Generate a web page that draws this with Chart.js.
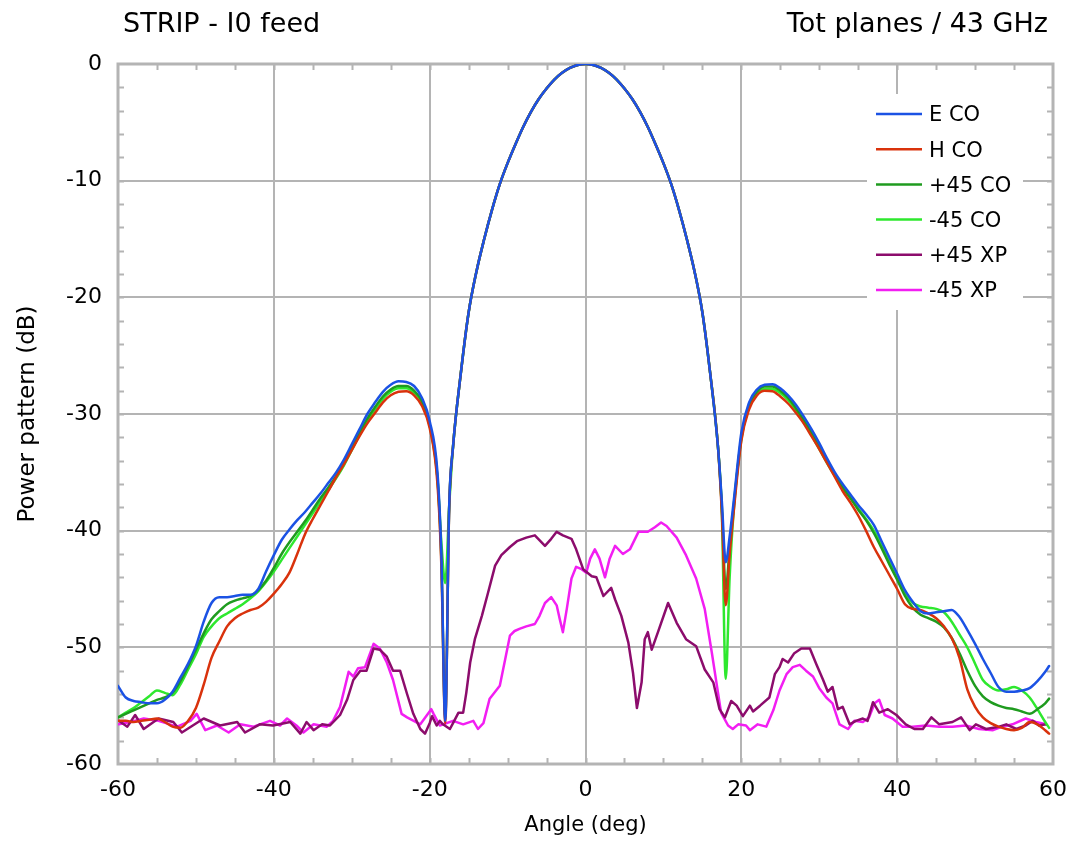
<!DOCTYPE html>
<html>
<head>
<meta charset="utf-8">
<script src="https://cdn.jsdelivr.net/npm/chart.js@4.4.1/dist/chart.umd.min.js"></script>
<style>
  html, body { margin: 0; padding: 0; background: #ffffff; }
  canvas { display: block; }
</style>
</head>
<body>
<canvas id="pattern" width="1070" height="843"></canvas>
<script>
// Series names, in legend order
const seriesLabels = ['E CO', 'H CO', '+45 CO', '-45 CO', '+45 XP', '-45 XP'];

// Axis tick labels
const angleTicks = [-60, -40, -20, 0, 20, 40, 60];
const dbTicks = [0, -10, -20, -30, -40, -50, -60];

// Angle samples shared by the co-polar cuts (deg)
const coAngles = [
  -60, -59, -58, -57, -56, -55, -54, -53, -52, -51,
  -50, -49, -48, -47, -46, -45, -44, -43, -42, -41,
  -40, -39, -38, -37, -36, -35, -34, -33, -32, -31,
  -30, -29, -28, -27, -26, -25, -24, -23, -22, -21,
  -20, -19, -18.5, -18, -17.5,
  -17, -16, -15, -14, -13, -12, -11, -10, -9, -8, -7, -6, -5, -4, -3, -2, -1,
  0,
  1, 2, 3, 4, 5, 6, 7, 8, 9, 10, 11, 12, 13, 14, 15, 16, 17,
  17.5, 18, 18.5,
  19, 20, 21, 22, 23, 24, 25, 26, 27, 28,
  29, 30, 31, 32, 33, 34, 35, 36, 37, 38,
  39, 40, 41, 42, 43, 44, 45, 46, 47, 48,
  49, 50, 51, 52, 53, 54, 55, 56, 57, 58,
  59, 59.5
];

// Co-polar power pattern (dB)
const eCoDb = [
  -53.3, -54.3, -54.6, -54.7, -54.8, -54.8, -54.5, -53.8, -52.6, -51.4,
  -49.9, -47.8, -46.2, -45.7, -45.7, -45.6, -45.5, -45.5, -45.0, -43.5,
  -42.1, -40.8, -39.9, -39.1, -38.4, -37.6, -36.8, -35.9, -35.0, -33.9,
  -32.6, -31.3, -30.0, -29.0, -28.1, -27.5, -27.2, -27.25, -27.6, -28.6,
  -30.6, -35.0, -42.0, -56.3, -38.0,
  -32.8, -26.5, -21.3, -17.8, -15.0, -12.5, -10.3, -8.5, -6.9, -5.4, -4.1, -3.0, -2.1, -1.33, -0.75, -0.33, -0.08,
  0,
  -0.08, -0.33, -0.75, -1.33, -2.1, -3.0, -4.1, -5.4, -6.9, -8.5, -10.3, -12.5, -15.0, -17.8, -21.3, -26.5, -32.8,
  -37.5, -42.7, -40.5,
  -37.6, -31.6, -29.0, -27.9, -27.5, -27.45, -27.8, -28.4, -29.2, -30.2,
  -31.3, -32.5, -33.8, -35.0, -36.0, -36.9, -37.8, -38.6, -39.5, -40.9,
  -42.3, -43.7, -45.1, -46.1, -46.9, -47.1, -47.0, -46.9, -46.8, -47.4,
  -48.5, -49.7, -51.0, -52.2, -53.4, -53.8, -53.8, -53.7, -53.5, -52.9,
  -52.1, -51.6
];
const hCoDb = [
  -56.3, -56.3, -56.4, -56.3, -56.2, -56.1, -56.4, -56.8, -56.9, -56.3,
  -55.2, -53.2, -50.9, -49.5, -48.2, -47.5, -47.1, -46.8, -46.6, -46.1,
  -45.4, -44.6, -43.6, -42.0, -40.3, -39.0, -37.8, -36.6, -35.4, -34.3,
  -33.1, -31.9, -30.8, -29.9, -29.0, -28.4, -28.1, -28.05, -28.4, -29.3,
  -31.2, -36.0, -43.0, -56.5, -38.2,
  -32.8, -26.5, -21.3, -17.8, -15.0, -12.5, -10.3, -8.5, -6.9, -5.4, -4.1, -3.0, -2.1, -1.33, -0.75, -0.33, -0.08,
  0,
  -0.08, -0.33, -0.75, -1.33, -2.1, -3.0, -4.1, -5.4, -6.9, -8.5, -10.3, -12.5, -15.0, -17.8, -21.3, -26.5, -32.8,
  -38.5, -46.4, -42.0,
  -38.5, -32.3, -29.6, -28.4, -28.0, -28.05, -28.5, -29.1, -29.9, -30.8,
  -31.9, -33.0, -34.2, -35.4, -36.6, -37.6, -38.7, -40.0, -41.4, -42.6,
  -43.8, -45.0, -46.3, -46.7, -46.8, -47.1, -47.5, -48.2, -49.2, -50.9,
  -53.6, -55.1, -56.0, -56.5, -56.8, -57.0, -57.1, -56.9, -56.4, -56.6,
  -57.1, -57.4
];
const plus45CoDb = [
  -56.0, -55.7, -55.4, -55.1, -54.8, -54.5, -54.3, -53.9, -52.9, -51.6,
  -50.2, -48.8, -47.6, -46.9, -46.3, -46.0, -45.8, -45.6, -45.1, -44.3,
  -43.2, -42.0, -41.0, -40.1, -39.2, -38.2, -37.2, -36.3, -35.3, -34.2,
  -32.9, -31.6, -30.4, -29.4, -28.5, -27.9, -27.6, -27.6, -28.0, -28.9,
  -30.9, -35.5, -42.5, -56.0, -38.1,
  -32.8, -26.5, -21.3, -17.8, -15.0, -12.5, -10.3, -8.5, -6.9, -5.4, -4.1, -3.0, -2.1, -1.33, -0.75, -0.33, -0.08,
  0,
  -0.08, -0.33, -0.75, -1.33, -2.1, -3.0, -4.1, -5.4, -6.9, -8.5, -10.3, -12.5, -15.0, -17.8, -21.3, -26.5, -32.8,
  -38.0, -45.0, -41.5,
  -38.0, -32.0, -29.3, -28.1, -27.65, -27.65, -28.0, -28.6, -29.5, -30.5,
  -31.6, -32.8, -34.0, -35.2, -36.3, -37.2, -38.2, -39.1, -40.2, -41.5,
  -42.9, -44.2, -45.6, -46.6, -47.2, -47.5, -47.8, -48.3, -49.2, -50.5,
  -52.0, -53.3, -54.2, -54.7, -55.0, -55.2, -55.3, -55.5, -55.7, -55.3,
  -54.8, -54.4
];
const minus45CoDb = [
  -56.0, -55.6, -55.2, -54.7, -54.2, -53.7, -53.9, -54.1, -53.2, -51.9,
  -50.6, -49.1, -48.2, -47.5, -47.1, -46.7, -46.3, -45.8, -45.2, -44.4,
  -43.5, -42.5, -41.5, -40.5, -39.5, -38.5, -37.5, -36.5, -35.5, -34.4,
  -33.1, -31.8, -30.6, -29.6, -28.7, -28.1, -27.8, -27.8, -28.2, -29.0,
  -31.0, -35.5, -41.0, -44.5, -38.0,
  -32.8, -26.5, -21.3, -17.8, -15.0, -12.5, -10.3, -8.5, -6.9, -5.4, -4.1, -3.0, -2.1, -1.33, -0.75, -0.33, -0.08,
  0,
  -0.08, -0.33, -0.75, -1.33, -2.1, -3.0, -4.1, -5.4, -6.9, -8.5, -10.3, -12.5, -15.0, -17.8, -21.3, -26.5, -32.8,
  -38.5, -52.7, -44.0,
  -38.5, -32.2, -29.4, -28.3, -27.85, -27.85, -28.2, -28.8, -29.7, -30.7,
  -31.8, -33.0, -34.2, -35.3, -36.3, -37.2, -38.1, -39.0, -40.0, -41.2,
  -42.6, -44.0, -45.4, -46.2, -46.5, -46.6, -46.7, -47.0, -47.8, -48.9,
  -50.0, -51.4, -52.8, -53.4, -53.7, -53.6, -53.4, -53.7, -54.3, -55.3,
  -56.4, -56.9
];

// Cross-polar cut in the +45 deg plane
const plus45XpAngles = [
  -59.9, -58.8, -57.8, -56.7, -54.8, -52.9, -51.8, -49.0, -46.9, -44.7,
  -43.7, -41.8, -40.1, -37.9, -36.6, -35.8, -34.9, -33.8, -32.8, -31.5,
  -30.6, -29.8, -28.9, -28.1, -27.2, -26.4, -25.5, -24.7, -23.8, -22.9,
  -22.1, -21.2, -20.6, -20.0, -19.7, -19.1, -18.7, -18.3, -17.4, -17.0,
  -16.3, -15.7, -15.3, -14.8, -14.2, -13.3, -12.5, -11.6, -10.8, -9.7,
  -8.8, -7.6, -6.5, -5.2, -4.4, -3.7, -2.9, -1.8, -1.2, -0.3,
  0.8, 1.4, 2.3, 3.3, 3.8, 4.6, 5.5, 6.1, 6.6, 7.2,
  7.6, 8.0, 8.5, 9.3, 10.6, 11.7, 12.9, 14.2, 15.3, 16.4,
  17.2, 17.9, 18.7, 19.4, 20.2, 21.1, 21.5, 22.4, 23.6, 24.3,
  24.9, 25.3, 26.0, 26.8, 27.7, 28.8, 29.6, 30.5, 31.1, 31.7,
  32.4, 33.0, 33.9, 34.7, 35.6, 36.2, 36.9, 37.7, 38.8, 39.9,
  41.1, 42.2, 43.3, 44.4, 45.4, 47.1, 48.2, 49.3, 50.1, 51.4,
  53.1, 54.0, 55.3, 56.5, 57.4, 58.2, 59.1
];
const plus45XpDb = [
  -56.3, -56.8, -55.8, -57.0, -56.1, -56.4, -57.3, -56.1, -56.7, -56.4,
  -57.3, -56.6, -56.7, -56.4, -57.4, -56.4, -57.1, -56.6, -56.7, -55.8,
  -54.5, -52.8, -52.0, -52.0, -50.1, -50.2, -50.8, -52.0, -52.0, -54.0,
  -55.7, -57.0, -57.4, -56.5, -55.9, -56.7, -56.3, -56.6, -57.0, -56.5,
  -55.6, -55.6, -53.9, -51.3, -49.3, -47.3, -45.3, -43.0, -42.1, -41.4,
  -40.9, -40.6, -40.4, -41.3, -40.7, -40.1, -40.4, -40.7, -41.6, -43.3,
  -43.9, -44.0, -45.6, -44.9, -45.9, -47.3, -49.6, -52.2, -55.2, -53.0,
  -49.3, -48.7, -50.2, -48.7, -46.2, -47.9, -49.3, -49.9, -51.9, -53.0,
  -55.3, -56.0, -54.6, -55.0, -55.9, -55.0, -55.5, -55.0, -54.3, -52.3,
  -51.7, -51.0, -51.3, -50.5, -50.1, -50.1, -51.4, -52.8, -53.8, -53.4,
  -55.3, -55.1, -56.6, -56.3, -56.1, -56.3, -54.7, -55.6, -55.3, -55.8,
  -56.6, -57.0, -57.0, -56.0, -56.6, -56.4, -56.0, -57.1, -56.6, -57.0,
  -56.8, -56.6, -57.0, -56.7, -56.3, -56.7, -56.6
];

// Cross-polar cut in the -45 deg plane
const minus45XpAngles = [
  -59.9, -58.4, -56.7, -54.8, -52.4, -50.7, -49.9, -48.8, -47.3, -45.8,
  -44.3, -42.6, -40.5, -39.2, -38.3, -37.1, -36.2, -34.9, -33.2, -32.4,
  -31.5, -30.4, -29.8, -29.2, -28.3, -27.2, -26.4, -25.5, -24.7, -23.6,
  -22.9, -21.2, -19.8, -19.5, -18.7, -17.0, -15.7, -14.4, -13.8, -13.1,
  -12.3, -11.0, -10.3, -9.7, -9.1, -8.4, -7.6, -6.5, -5.9, -5.2,
  -4.4, -3.7, -3.3, -2.9, -2.4, -1.8, -1.2, -0.5, 0.1, 0.6,
  1.2, 1.8, 2.5, 3.1, 3.8, 4.8, 5.7, 6.8, 8.0, 8.9,
  9.7, 10.4, 11.7, 12.9, 14.2, 15.3, 16.2, 16.8, 17.4, 18.3,
  18.9, 19.6, 20.6, 21.1, 22.1, 23.2, 24.1, 24.9, 25.8, 26.6,
  27.5, 28.3, 29.2, 30.0, 30.9, 31.7, 32.6, 33.7, 34.5, 35.6,
  36.4, 37.1, 37.7, 38.4, 39.4, 40.7, 42.0, 43.7, 45.4, 47.1,
  48.8, 50.5, 52.3, 53.5, 54.8, 56.5, 57.8, 59.1
];
const minus45XpDb = [
  -56.6, -56.4, -56.1, -56.3, -56.8, -56.3, -55.7, -57.1, -56.7, -57.3,
  -56.6, -56.8, -56.3, -56.7, -56.1, -56.7, -57.3, -56.6, -56.8, -56.3,
  -55.1, -52.1, -52.5, -51.8, -51.7, -49.7, -50.1, -51.3, -52.8, -55.7,
  -56.0, -56.6, -55.3, -55.7, -56.7, -56.3, -56.6, -56.3, -57.0, -56.5,
  -54.4, -53.3, -51.0, -49.0, -48.6, -48.4, -48.2, -48.0, -47.3, -46.2,
  -45.7, -46.4, -47.6, -48.7, -46.7, -44.1, -43.1, -43.3, -43.6, -42.4,
  -41.6, -42.4, -44.0, -42.4, -41.3, -42.0, -41.6, -40.1, -40.1, -39.7,
  -39.3, -39.6, -40.6, -42.1, -44.1, -46.7, -50.4, -53.0, -55.6, -56.7,
  -57.0, -56.6, -56.7, -57.1, -56.6, -56.8, -55.4, -53.7, -52.3, -51.7,
  -51.5, -52.0, -52.5, -53.5, -54.3, -54.8, -56.6, -57.0, -56.3, -56.4,
  -56.0, -54.8, -54.5, -55.8, -56.1, -56.8, -56.8, -56.7, -56.8, -56.8,
  -56.7, -57.0, -57.1, -56.8, -56.6, -56.1, -56.4, -56.6
];

const seriesColors = ['#1b52e4', '#d9320c', '#1f9b1f', '#2ee82e', '#8c0c6c', '#f21ef2'];

const FONT = '"DejaVu Sans", Verdana, Tahoma, sans-serif';
const GRID_COLOR = '#b4b4b4';

function toPoints(angles, values) {
  return angles.map((a, i) => ({ x: a, y: values[i] }));
}

// Frame around the plot and short inward minor ticks on all four sides
const frameAndMinorTicks = {
  id: 'frameAndMinorTicks',
  beforeDatasetsDraw(chart) {
    const { ctx, chartArea: a, scales: { x, y } } = chart;
    const len = 6;
    ctx.save();
    ctx.strokeStyle = GRID_COLOR;
    ctx.lineWidth = 2;
    ctx.beginPath();
    for (let v = x.min + 5; v < x.max; v += 5) {
      const px = Math.round(x.getPixelForValue(v)) + 0.5;
      ctx.moveTo(px, a.top); ctx.lineTo(px, a.top + len);
      ctx.moveTo(px, a.bottom); ctx.lineTo(px, a.bottom - len);
    }
    for (let v = y.min + 2; v < y.max; v += 2) {
      const py = Math.round(y.getPixelForValue(v)) + 0.5;
      ctx.moveTo(a.left, py); ctx.lineTo(a.left + len, py);
      ctx.moveTo(a.right, py); ctx.lineTo(a.right - len, py);
    }
    ctx.stroke();
    ctx.lineWidth = 3;
    ctx.strokeRect(a.left, a.top, a.right - a.left, a.bottom - a.top);
    ctx.restore();
  }
};

// Legend box drawn inside the plot, top right
const insideLegend = {
  id: 'insideLegend',
  afterDatasetsDraw(chart) {
    const { ctx, chartArea: a } = chart;
    const boxX = a.right - 186, boxY = a.top + 30, boxW = 156, boxH = 216;
    ctx.save();
    ctx.fillStyle = '#ffffff';
    ctx.fillRect(boxX, boxY, boxW, boxH);
    ctx.font = '21px ' + FONT;
    ctx.textBaseline = 'middle';
    ctx.textAlign = 'left';
    chart.data.datasets.forEach((ds, i) => {
      const ly = boxY + 20 + i * 35.2;
      ctx.strokeStyle = ds.borderColor;
      ctx.lineWidth = 2.5;
      ctx.beginPath();
      ctx.moveTo(boxX + 9, ly);
      ctx.lineTo(boxX + 55, ly);
      ctx.stroke();
      ctx.fillStyle = '#000000';
      ctx.fillText(ds.label, boxX + 62, ly + 2);
    });
    ctx.restore();
  }
};

// Header texts above the plot
const headerTexts = {
  id: 'headerTexts',
  afterDraw(chart) {
    const { ctx } = chart;
    ctx.save();
    ctx.fillStyle = '#000000';
    ctx.font = '27px ' + FONT;
    ctx.textBaseline = 'alphabetic';
    ctx.textAlign = 'left';
    ctx.fillText('STRIP - I0 feed', 123, 32);
    ctx.textAlign = 'right';
    ctx.fillText('Tot planes / 43 GHz', 1048, 32);
    ctx.restore();
  }
};

const coSeries = [eCoDb, hCoDb, plus45CoDb, minus45CoDb];
const datasets = [];
coSeries.forEach((vals, i) => {
  datasets.push({
    label: seriesLabels[i],
    data: toPoints(coAngles, vals),
    borderColor: seriesColors[i],
    cubicInterpolationMode: 'monotone'
  });
});
datasets.push({
  label: seriesLabels[4],
  data: toPoints(plus45XpAngles, plus45XpDb),
  borderColor: seriesColors[4],
  tension: 0
});
datasets.push({
  label: seriesLabels[5],
  data: toPoints(minus45XpAngles, minus45XpDb),
  borderColor: seriesColors[5],
  tension: 0
});

new Chart(document.getElementById('pattern'), {
  type: 'line',
  data: { datasets },
  plugins: [frameAndMinorTicks, insideLegend, headerTexts],
  options: {
    responsive: false,
    animation: false,
    parsing: false,
    normalized: true,
    layout: { padding: { left: 0, right: 17, top: 64, bottom: 0 } },
    elements: {
      point: { radius: 0, hoverRadius: 0 },
      line: { borderWidth: 2.5, fill: false, borderCapStyle: 'round', borderJoinStyle: 'round' }
    },
    plugins: {
      legend: { display: false },
      tooltip: { enabled: false }
    },
    scales: {
      x: {
        type: 'linear',
        min: -60,
        max: 60,
        afterBuildTicks: (s) => { s.ticks = angleTicks.map(v => ({ value: v })); },
        afterFit: (s) => { s.height = 79; s.paddingLeft = 0; s.paddingRight = 0; },
        border: { display: false },
        grid: { color: GRID_COLOR, lineWidth: 2, drawTicks: false },
        ticks: { color: '#000000', padding: 13, maxRotation: 0, autoSkip: false, font: { family: FONT, size: 22 } },
        title: { display: true, text: 'Angle (deg)', color: '#000000', font: { family: FONT, size: 21 }, padding: { top: 4, bottom: 5 } }
      },
      y: {
        type: 'linear',
        min: -60,
        max: 0,
        afterBuildTicks: (s) => { s.ticks = dbTicks.map(v => ({ value: v })); },
        afterFit: (s) => { s.width = 118; s.paddingTop = 0; s.paddingBottom = 0; },
        border: { display: false },
        grid: { color: GRID_COLOR, lineWidth: 2, drawTicks: false },
        ticks: { color: '#000000', padding: 16, font: { family: FONT, size: 22 } },
        title: { display: true, text: 'Power pattern (dB)', color: '#000000', font: { family: FONT, size: 23 }, padding: { top: 14, bottom: 4 } }
      }
    }
  }
});
</script>
</body>
</html>
